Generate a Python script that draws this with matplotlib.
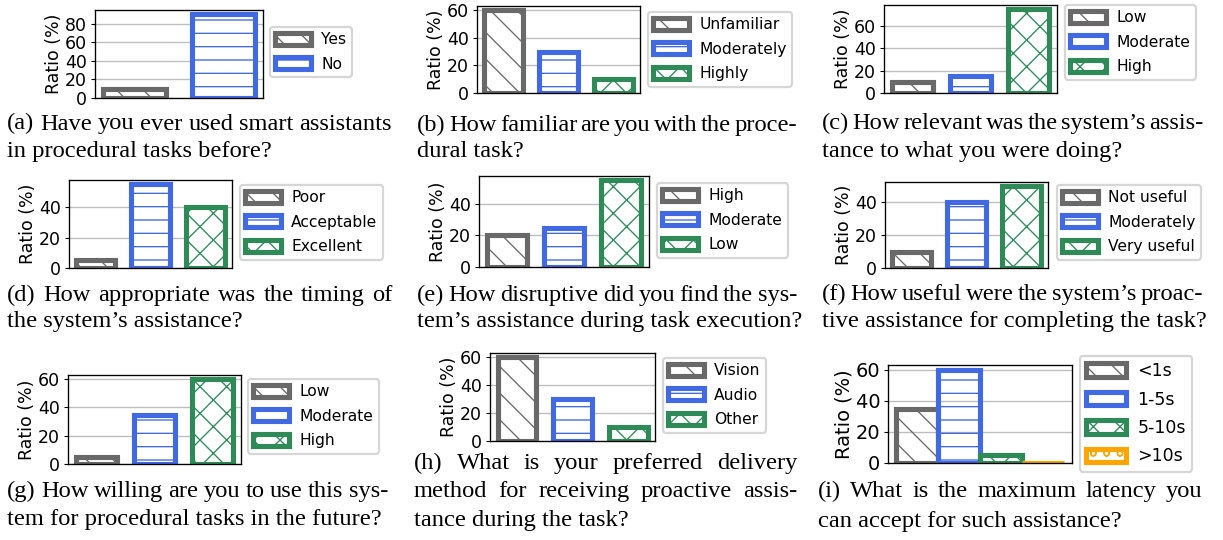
import matplotlib
matplotlib.use("Agg")
import matplotlib.pyplot as plt
from matplotlib.ticker import MultipleLocator

DPI = 160
W, H = 1223, 540

# answers in percent (n = 20 participants)
labels_a = ["Yes", "No"]
ratio_a = [10, 90]
labels_b = ["Unfamiliar", "Moderately", "Highly"]
ratio_b = [60, 30, 10]
labels_c = ["Low", "Moderate", "High"]
ratio_c = [10, 15, 75]
labels_d = ["Poor", "Acceptable", "Excellent"]
ratio_d = [5, 55, 40]
labels_e = ["High", "Moderate", "Low"]
ratio_e = [20, 25, 55]
labels_f = ["Not useful", "Moderately", "Very useful"]
ratio_f = [10, 40, 50]
labels_g = ["Low", "Moderate", "High"]
ratio_g = [5, 35, 60]
labels_h = ["Vision", "Audio", "Other"]
ratio_h = [60, 30, 10]
labels_i = ["<1s", "1-5s", "5-10s", ">10s"]
ratio_i = [35, 60, 5, 0]

captions = {
    "a": ["(a) Have you ever used smart assistants", "in procedural tasks before?"],
    "b": ["(b) How familiar are you with the proce-", "dural task?"],
    "c": ["(c) How relevant was the system\u2019s assis-", "tance to what you were doing?"],
    "d": ["(d) How appropriate was the timing of", "the system\u2019s assistance?"],
    "e": ["(e) How disruptive did you find the sys-", "tem\u2019s assistance during task execution?"],
    "f": ["(f) How useful were the system\u2019s proac-", "tive assistance for completing the task?"],
    "g": ["(g) How willing are you to use this sys-", "tem for procedural tasks in the future?"],
    "h": ["(h) What is your preferred delivery", "method for receiving proactive assis-",
          "tance during the task?"],
    "i": ["(i) What is the maximum latency you", "can accept for such assistance?"],
}

colors = ["#696969", "#4169e1", "#2e8b57", "#ffa500"]
hatches = ["\\\\", "--", "xx", "oo"]

# pixel layout: axes (left, right, top, bottom), legend top-left, caption x0/x1 and baselines
panels = [
    ("a", labels_a, ratio_a, (95, 263, 10, 98), (270, 27), (7, 392, [129.5, 156.7]), 1.0, 0.7),
    ("b", labels_b, ratio_b, (477, 640, 6, 93), (648, 12), (417, 797, [130.7, 157]), 1.0, 0.7),
    ("c", labels_c, ratio_c, (884, 1057, 5, 93), (1065, 5), (822, 1203, [128.7, 156.7]), 1.0, 0.7),
    ("d", labels_d, ratio_d, (69, 232, 180, 268), (240, 185), (7, 393, [300.7, 327]), 1.0, 0.7),
    ("e", labels_e, ratio_e, (479, 649, 176, 267), (657, 183), (417, 797, [300.7, 326.7]), 1.0, 0.7),
    ("f", labels_f, ratio_f, (885, 1048, 182, 268), (1057, 185), (822, 1203, [300, 327]), 1.0, 0.7),
    ("g", labels_g, ratio_g, (68, 241, 375, 464), (248, 379), (7, 388, [496.7, 525]), 1.0, 0.7),
    ("h", labels_h, ratio_h, (490, 655, 353, 441), (663, 358), (414, 797, [469.3, 497.3, 526]), 1.0, 0.7),
    ("i", labels_i, ratio_i, (888, 1072, 365, 463), (1080, 356), (818, 1202, [497.3, 526.7]), 1.12, 1.0),
]

plt.rcParams["hatch.linewidth"] = 0.6
plt.rcParams["font.family"] = "DejaVu Sans"
CAPTION_FONT = "Liberation Serif"
CAPTION_SIZE = 11.0

fig = plt.figure(figsize=(W / DPI, H / DPI), dpi=DPI)
renderer = fig.canvas.get_renderer()


def fx(px):
    return px / W


def fy(py):
    return 1 - py / H


def justified(lines, x0, x1, baselines):
    for k, (line, base) in enumerate(zip(lines, baselines)):
        if k == len(lines) - 1:
            fig.text(fx(x0), fy(base), line, family=CAPTION_FONT, size=CAPTION_SIZE,
                     va="baseline", ha="left")
            continue
        words = line.split(" ")
        texts = [fig.text(0, fy(base), w, family=CAPTION_FONT, size=CAPTION_SIZE,
                          va="baseline", ha="left") for w in words]
        widths = [t.get_window_extent(renderer).width for t in texts]
        gap = (x1 - x0 - sum(widths)) / (len(words) - 1)
        x = x0
        for t, w in zip(texts, widths):
            t.set_x(fx(x))
            x += w + gap


for key, labels, values, box, leg_at, cap, scale, width in panels:
    left, right, top, bottom = box
    ax = fig.add_axes([fx(left), fy(bottom), fx(right - left), (bottom - top) / H])
    face = "none" if key == "i" else "white"
    bars = ax.bar(range(len(values)), values, width=width, color=face, linewidth=2.3)
    for k, patch in enumerate(bars.patches):
        patch.set_edgecolor(colors[k])
        patch.set_hatch(hatches[k])
    ax.set_axisbelow(True)
    ax.yaxis.grid(True, color="#bdbdbd", linewidth=0.6)
    ax.yaxis.set_major_locator(MultipleLocator(20))
    ax.set_xticks([])
    ax.tick_params(axis="y", labelsize=7.8 * scale, length=2, width=0.5, pad=1.5)
    ax.set_ylabel("Ratio (%)", fontsize=7.8 * scale, labelpad=1)
    for sp in ax.spines.values():
        sp.set_linewidth(0.6)
    leg = ax.legend(bars.patches, labels, loc="upper left",
                    bbox_to_anchor=(fx(leg_at[0]), fy(leg_at[1])), bbox_transform=fig.transFigure,
                    fontsize=7.0 * scale, handlelength=2.3, handleheight=0.8, labelspacing=0.6,
                    borderaxespad=0, borderpad=0.35, handletextpad=0.65)
    for handle in leg.legend_handles:
        handle.set_facecolor("white")
    justified(captions[key], *cap)

fig.savefig("out.png", dpi=DPI)
